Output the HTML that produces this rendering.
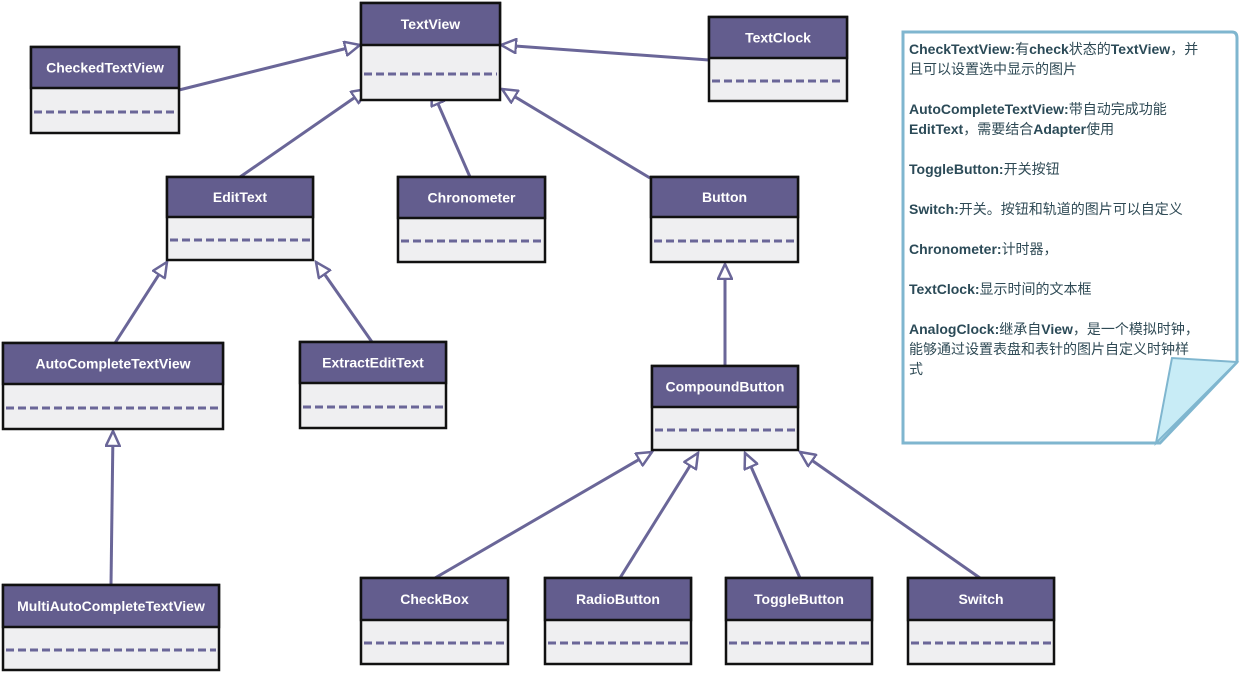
<!DOCTYPE html>
<html><head><meta charset="utf-8"><style>
body{margin:0;background:#fff;width:1241px;height:674px;overflow:hidden;position:relative;font-family:"Liberation Sans","Noto Sans CJK SC",sans-serif}
.note{position:absolute;left:909px;top:39px;width:314px;font-size:14px;line-height:20px;color:#2f4a55}
.note b{color:#2b4a57}
.note p{margin:0 0 20px 0}
</style></head><body>
<svg width="1241" height="674" style="position:absolute;left:0;top:0" font-family="Liberation Sans, sans-serif">
<defs>
<marker id="a" markerWidth="18" markerHeight="16" refX="16" refY="8" orient="auto" markerUnits="userSpaceOnUse">
<path d="M1,1 L16,8 L1,15 Z" fill="#fff" stroke="#6a6698" stroke-width="2.5"/>
</marker>
</defs>
<g stroke="#6a6698" stroke-width="3" fill="none" marker-end="url(#a)">
<line x1="179" y1="90" x2="360" y2="45"/>
<line x1="709" y1="60" x2="501" y2="45"/>
<line x1="240" y1="177" x2="367" y2="89"/>
<line x1="470" y1="177" x2="432" y2="90"/>
<line x1="650" y1="178" x2="502" y2="89"/>
<line x1="115" y1="343" x2="167" y2="262"/>
<line x1="372" y1="342" x2="316" y2="262"/>
<line x1="111" y1="585" x2="113" y2="431"/>
<line x1="725" y1="366" x2="725" y2="264"/>
<line x1="435" y1="578" x2="652" y2="452"/>
<line x1="620" y1="578" x2="698" y2="453"/>
<line x1="800" y1="578" x2="745" y2="453"/>
<line x1="980" y1="578" x2="800" y2="452"/>
</g>
<g id="nodes" font-size="14" font-weight="bold" fill="#fff" text-anchor="middle"></g>
<path d="M903,32 L1232,32 Q1237,32 1237,38 L1237,362 L1160,443 L903,443 Z" fill="#fff" stroke="#7fb6cf" stroke-width="3"/>
<path d="M1237,362 L1172,358 L1156,443 Z" fill="#c8ecf6" stroke="#7fb6cf" stroke-width="2"/>
</svg>
<div class="note">
<p><b>CheckTextView:</b>有<b>check</b>状态的<b>TextView</b>，并<br>且可以设置选中显示的图片</p>
<p><b>AutoCompleteTextView:</b>带自动完成功能<br><b>EditText</b>，需要结合<b>Adapter</b>使用</p>
<p><b>ToggleButton:</b>开关按钮</p>
<p><b>Switch:</b>开关。按钮和轨道的图片可以自定义</p>
<p><b>Chronometer:</b>计时器，</p>
<p><b>TextClock:</b>显示时间的文本框</p>
<p><b>AnalogClock:</b>继承自<b>View</b>，是一个模拟时钟，<br>能够通过设置表盘和表针的图片自定义时钟样<br>式</p>
</div>
<script>
var N=[["TextView",361,3,500,100,45],["CheckedTextView",31,47,179,133,88],["TextClock",709,17,847,101,58],
["EditText",167,177,313,260,217],["Chronometer",398,177,545,262,218],["Button",651,177,798,262,217],
["AutoCompleteTextView",3,343,223,429,384],["ExtractEditText",300,342,446,428,383],["CompoundButton",652,366,798,450,407],
["MultiAutoCompleteTextView",3,585,219,670,627],["CheckBox",361,578,508,664,620],["RadioButton",545,578,691,664,620],
["ToggleButton",726,578,872,664,620],["Switch",908,578,1054,664,620]];
var g=document.getElementById("nodes"),s="";
N.forEach(function(n){var x=n[1],y=n[2],w=n[3]-n[1],h=n[4]-n[2],hb=n[5];
s+='<rect x="'+x+'" y="'+y+'" width="'+w+'" height="'+h+'" fill="#efeff1" stroke="#111" stroke-width="2.5"/>';
s+='<rect x="'+x+'" y="'+y+'" width="'+w+'" height="'+(hb-y)+'" fill="#635d8e" stroke="#111" stroke-width="2.5"/>';
var dy=Math.round((hb+n[4])/2)+1;
s+='<line x1="'+(x+3)+'" y1="'+dy+'" x2="'+(x+w-3)+'" y2="'+dy+'" stroke="#6a6698" stroke-width="3" stroke-dasharray="8,4"/>';
s+='<text x="'+(x+w/2)+'" y="'+(y+(hb-y)/2+5)+'">'+n[0]+'</text>';});
g.innerHTML=s;
</script>
</body></html>
